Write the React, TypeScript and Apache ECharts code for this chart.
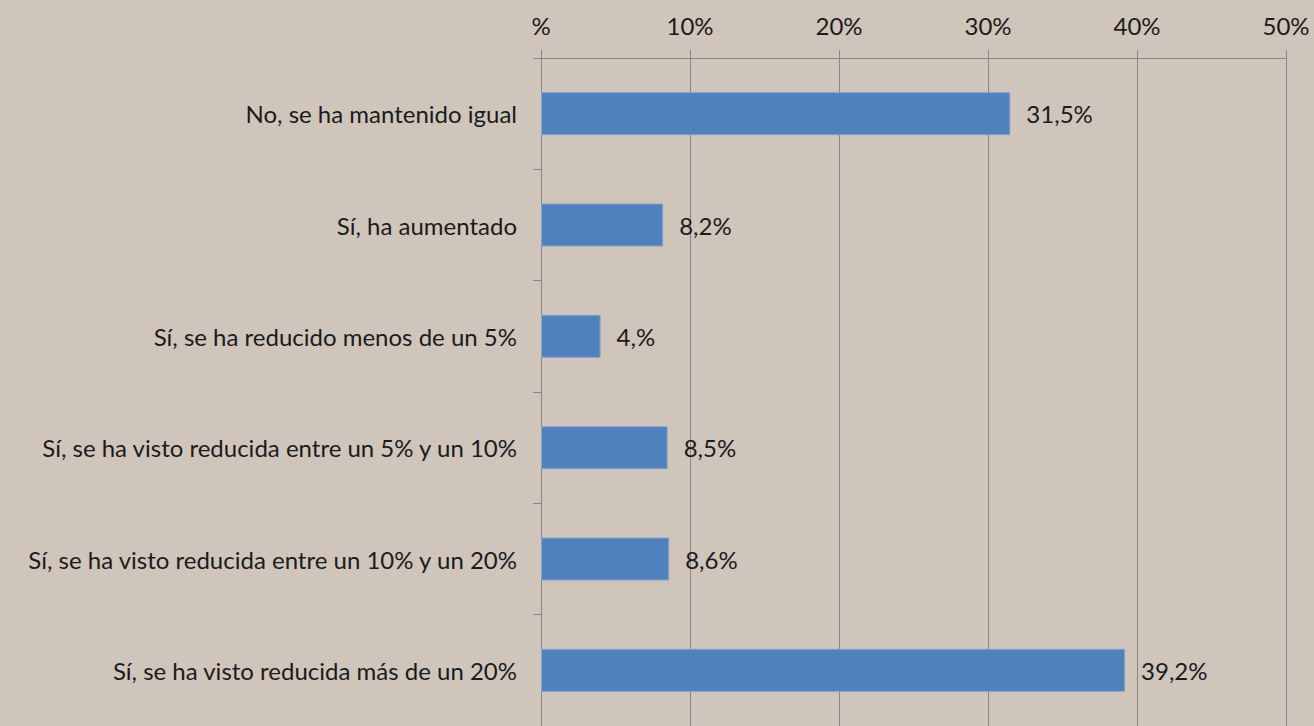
import React, { useEffect, useRef } from "react";
import * as echarts from "echarts";

const categories = [
  "No, se ha mantenido igual",
  "Sí, ha aumentado",
  "Sí, se ha reducido menos de un 5%",
  "Sí, se ha visto reducida entre un 5% y un 10%",
  "Sí, se ha visto reducida entre un 10% y un 20%",
  "Sí, se ha visto reducida más de un 20%",
];
const values = [31.5, 8.2, 4.0, 8.5, 8.6, 39.2];
const valueLabels = ["31,5%", "8,2%", "4,%", "8,5%", "8,6%", "39,2%"];
const xTicks = [0, 10, 20, 30, 40, 50];
const xTickLabels = ["%", "10%", "20%", "30%", "40%", "50%"];

const FONT = "Lato";
const TEXT = "#1b1b1b";
const GRID = "#878787";

export default function App() {
  const ref = useRef<HTMLDivElement>(null);
  useEffect(() => {
    document.body.style.margin = "0";
    const chart = echarts.init(ref.current!, null, { renderer: "svg" });
    chart.setOption({
      animation: false,
      backgroundColor: "#CFC5BB",
      grid: { left: 541, right: 28, top: 58, height: 669, containLabel: false },
      xAxis: {
        type: "value",
        position: "top",
        min: 0,
        max: 50,
        interval: 10,
        axisLine: { show: true, lineStyle: { color: GRID, width: 1 } },
        axisTick: { show: true, length: 8, lineStyle: { color: GRID } },
        splitLine: { show: true, lineStyle: { color: GRID, width: 1 } },
        axisLabel: {
          color: TEXT,
          fontFamily: FONT,
          fontSize: 24,
          margin: 21,
          formatter: (v: number) => xTickLabels[xTicks.indexOf(v)] ?? "",
        },
      },
      yAxis: {
        type: "category",
        inverse: true,
        data: categories,
        axisLine: { show: true, lineStyle: { color: GRID, width: 1 } },
        axisTick: { show: true, length: 8, lineStyle: { color: GRID } },
        axisLabel: {
          color: TEXT,
          fontFamily: FONT,
          fontSize: 24,
          margin: 24,
        },
      },
      series: [
        {
          type: "bar",
          data: values,
          barWidth: 43,
          itemStyle: { color: "#4F81BD", borderColor: "#86A2CB", borderWidth: 1 },
          label: {
            show: true,
            position: "right",
            distance: 16,
            color: TEXT,
            fontFamily: FONT,
            fontSize: 24,
            formatter: (p: any) => valueLabels[p.dataIndex],
          },
        },
      ],
    });
    return () => chart.dispose();
  }, []);
  return (
    <div
      ref={ref}
      style={{ position: "fixed", left: 0, top: 0, width: 1314, height: 726 }}
    />
  );
}
